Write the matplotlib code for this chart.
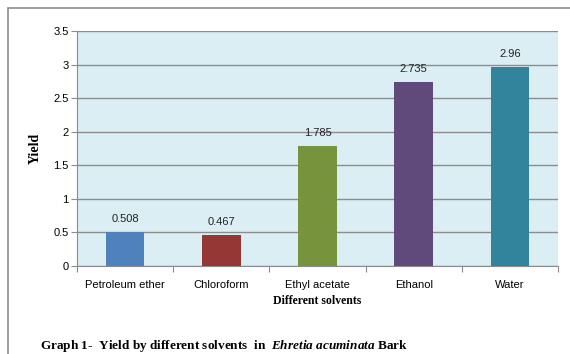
import matplotlib.pyplot as plt
from matplotlib.patches import Rectangle

solvents = ['Petroleum ether', 'Chloroform', 'Ethyl acetate', 'Ethanol', 'Water']
yields = [0.508, 0.467, 1.785, 2.735, 2.96]
value_labels = ['0.508', '0.467', '1.785', '2.735', '2.96']
colors = ['#4F81BD', '#953735', '#77933C', '#604A7B', '#31849B']
yticks = [0, 0.5, 1, 1.5, 2, 2.5, 3, 3.5]
ytick_labels = ['0', '0.5', '1', '1.5', '2', '2.5', '3', '3.5']

plt.rcParams['mathtext.fontset'] = 'custom'
plt.rcParams['mathtext.rm'] = 'Liberation Serif:bold'
plt.rcParams['mathtext.it'] = 'Liberation Serif:bold:italic'

W, H = 570, 354
fig = plt.figure(figsize=(W / 100, H / 100), dpi=100)

# outer frame of the chart object (runs off the right and bottom)
fig.patches.append(Rectangle((8 / W, -0.1), 1.2, 1.1 - 8 / H, transform=fig.transFigure,
                             fill=False, edgecolor='#8c8c8c', linewidth=1.2))

ax = fig.add_axes([77 / W, 1 - 266 / H, (558 - 77) / W, (266 - 31) / H])
ax.set_facecolor('#DBEEF4')

x = range(len(solvents))
ax.bar(x, yields, width=0.4, color=colors, zorder=3)
for i, (v, s) in enumerate(zip(yields, value_labels)):
    ax.text(i, v + 0.12, s, ha='center', va='bottom', fontsize=8, color='#222222',
            family='Liberation Sans')

ax.set_xlim(-0.5, len(solvents) - 0.5)
ax.set_ylim(0, 3.5)
ax.set_yticks(yticks)
ax.set_yticklabels(ytick_labels, fontsize=8, family='Liberation Sans')
ax.yaxis.grid(True, color='#8c8c8c', linewidth=1)
ax.set_axisbelow(True)

# category ticks sit on the boundaries between groups
ax.set_xticks([i + 0.5 for i in range(-1, len(solvents))])
ax.set_xticklabels([])
ax.set_xticks(list(x), minor=True)
ax.set_xticklabels(solvents, minor=True, fontsize=8, family='Liberation Sans')
ax.tick_params(axis='x', which='minor', length=0, pad=10)
ax.tick_params(axis='x', which='major', length=4, color='#8c8c8c', direction='out')
ax.tick_params(axis='y', length=4, color='#8c8c8c', pad=2)

for side in ['top', 'right']:
    ax.spines[side].set_visible(False)
ax.spines['left'].set_color('#8c8c8c')
ax.spines['bottom'].set_color('#8c8c8c')

ax.set_ylabel('Yield', fontsize=10, fontweight='bold', family='Liberation Serif', labelpad=8)
ax.set_xlabel('Different solvents', fontsize=8.5, fontweight='bold', family='Liberation Serif',
              labelpad=4)

fig.text(40 / W, 1 - 346 / H,
         r'Graph 1-  Yield by different solvents  in  $\it{Ehretia\ acuminata}$ Bark',
         fontsize=9.5, fontweight='bold', family='Liberation Serif', va='center')

fig.savefig('out.png', dpi=100)
